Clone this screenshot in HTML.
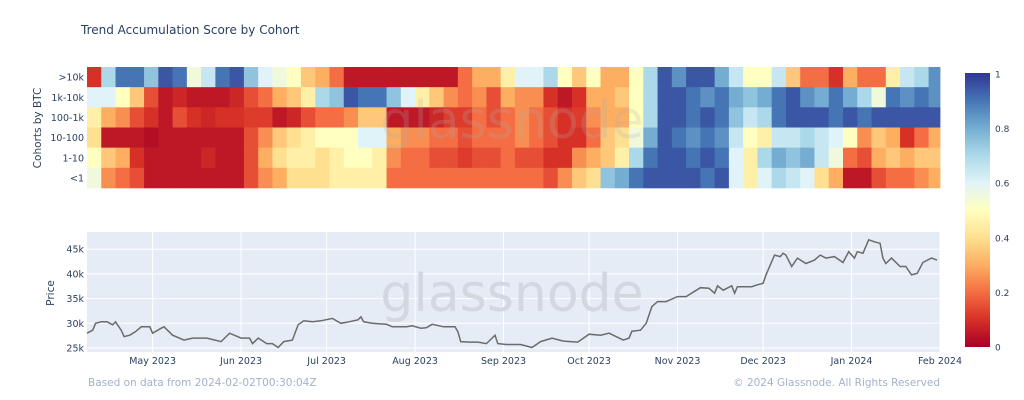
<!DOCTYPE html>
<html><head><meta charset="utf-8"><style>
body{margin:0;background:#fff;}
svg{display:block;font-family:"DejaVu Sans","Liberation Sans",sans-serif;}
</style></head><body>
<svg id="chart" width="1024" height="400" viewBox="0 0 1024 400" xmlns="http://www.w3.org/2000/svg">
<rect width="1024" height="400" fill="#fff"/>
<text x="81" y="34" font-size="12" fill="#2a3f5f">Trend Accumulation Score by Cohort</text>
<g id="heat"></g>
<g id="heatlabels"></g>
<text transform="translate(41,128) rotate(-90)" text-anchor="middle" font-size="10.5" fill="#2a3f5f">Cohorts by BTC</text>
<text x="512" y="138" text-anchor="middle" font-size="52" fill="#b0b0b0" opacity="0.22">glassnode</text>
<rect x="87" y="232" width="853" height="120" fill="#e5ecf6"/>
<g id="grid"></g>
<text x="512" y="311" text-anchor="middle" font-size="52" fill="#d3d7df">glassnode</text>
<path id="priceLine" fill="none" stroke="#6b6b6b" stroke-width="1.5"/>
<g id="ylab"></g>
<g id="xlab"></g>
<text transform="translate(54,293) rotate(-90)" text-anchor="middle" font-size="10.5" fill="#2a3f5f">Price</text>
<defs><linearGradient id="cb" x1="0" y1="1" x2="0" y2="0">
<stop offset="0" stop-color="#a50026"/><stop offset="0.1" stop-color="#d73027"/><stop offset="0.2" stop-color="#f46d43"/><stop offset="0.3" stop-color="#fdae61"/><stop offset="0.4" stop-color="#fee090"/><stop offset="0.5" stop-color="#ffffbf"/><stop offset="0.6" stop-color="#e0f3f8"/><stop offset="0.7" stop-color="#abd9e9"/><stop offset="0.8" stop-color="#74add1"/><stop offset="0.9" stop-color="#4575b4"/><stop offset="1" stop-color="#313695"/>
</linearGradient></defs>
<rect x="965" y="73" width="25" height="274" fill="url(#cb)"/>
<g id="cblab"></g>
<text x="88" y="386" font-size="10.5" fill="#a3b1c9">Based on data from 2024-02-02T00:30:04Z</text>
<text x="940" y="386" text-anchor="end" font-size="10.5" fill="#a3b1c9">© 2024 Glassnode. All Rights Reserved</text>
</svg>
<script>
const cohorts = [">10k","1k-10k","100-1k","10-100","1-10","<1"];
const row0 = [0.1,0.7,0.9,0.9,0.75,0.95,0.9,0.55,0.65,0.9,0.95,0.75,0.6,0.55,0.5,0.35,0.3,0.2,0.05,0.05, 0.05,0.05,0.05,0.05,0.05,0.05,0.2,0.3,0.3,0.45,0.6,0.6,0.7,0.5,0.35,0.5,0.3,0.3,0.5,0.7,0.95, 0.85,0.95,0.95,0.8,0.65,0.5,0.5,0.65,0.35,0.2,0.2,0.1,0.3,0.2,0.2,0.45,0.65,0.7,0.85];
const row1 = [0.6,0.6,0.5,0.35,0.15,0.05,0.08,0.05,0.05,0.05,0.08,0.15,0.2,0.3,0.35,0.45,0.7,0.75,0.95,0.9, 0.9,0.75,0.6,0.45,0.35,0.25,0.2,0.25,0.15,0.3,0.25,0.25,0.1,0.05,0.1,0.3,0.3,0.35,0.5,0.7,0.95, 0.95,0.9,0.85,0.9,0.8,0.75,0.8,0.9,0.95,0.85,0.8,0.9,0.8,0.7,0.55,0.9,0.85,0.9,0.85];
const row2 = [0.45,0.3,0.25,0.15,0.1,0.05,0.15,0.1,0.08,0.1,0.1,0.12,0.12,0.05,0.08,0.15,0.2,0.2,0.25,0.35, 0.35,0.05,0.05,0.05,0.08,0.12,0.12,0.2,0.15,0.2,0.25,0.2,0.15,0.1,0.12,0.25,0.3,0.3,0.5,0.7,0.95, 0.95,0.9,0.95,0.9,0.75,0.65,0.7,0.9,0.95,0.95,0.95,0.9,0.95,0.9,0.95,0.95,0.95,0.95,0.95];
const row3 = [0.4,0.05,0.05,0.05,0.03,0.05,0.05,0.05,0.05,0.05,0.05,0.15,0.25,0.35,0.4,0.45,0.5,0.5,0.5,0.6, 0.6,0.3,0.25,0.25,0.2,0.2,0.15,0.2,0.2,0.2,0.25,0.2,0.15,0.1,0.1,0.2,0.35,0.4,0.55,0.8,0.95, 0.9,0.85,0.9,0.85,0.65,0.5,0.45,0.65,0.65,0.7,0.65,0.6,0.5,0.25,0.35,0.3,0.1,0.2,0.3];
const row4 = [0.5,0.35,0.3,0.1,0.05,0.05,0.05,0.05,0.08,0.05,0.05,0.15,0.3,0.4,0.45,0.45,0.4,0.45,0.5,0.5, 0.45,0.25,0.2,0.2,0.15,0.15,0.12,0.15,0.15,0.2,0.15,0.15,0.1,0.1,0.25,0.3,0.35,0.45,0.7,0.9,0.95, 0.95,0.9,0.95,0.9,0.6,0.45,0.7,0.8,0.75,0.8,0.65,0.55,0.2,0.15,0.3,0.35,0.3,0.35,0.35];
const row5 = [0.55,0.25,0.2,0.15,0.05,0.05,0.05,0.05,0.05,0.05,0.05,0.15,0.25,0.3,0.4,0.4,0.4,0.45,0.45,0.45, 0.45,0.2,0.2,0.2,0.2,0.2,0.2,0.2,0.2,0.2,0.2,0.2,0.15,0.25,0.35,0.4,0.75,0.8,0.9,0.95,0.95, 0.95,0.95,0.9,0.95,0.6,0.45,0.6,0.7,0.65,0.6,0.4,0.3,0.05,0.05,0.15,0.2,0.2,0.25,0.3];
const rows = [row0,row1,row2,row3,row4,row5];
const cellDays = 5;
const priceDays = [0,2,3,5,7,9,10,12,13,15,17,19,22,23,26,27,30,34,37,42,47,50,54,57,58,60,63,65,67,69,72,74,76,79,82,86,89,91,95,96,97,100,105,107,112,114,117,119,121,125,129,130,131,134,137,140,143,144,147,152,156,159,163,167,172,176,180,183,188,190,191,194,196,198,200,203,207,210,215,218,220,221,223,226,227,228,233,235,237,238,241,243,244,245,247,249,252,255,257,259,262,265,267,269,270,272,274,276,278,279,280,282,285,287,289,291,293,296,298];
const priceVals = [28.0,28.6,30.0,30.3,30.3,29.7,30.3,28.6,27.3,27.6,28.3,29.3,29.3,28.0,29.0,29.3,27.6,26.6,27.0,27.0,26.3,28.0,27.0,27.0,25.9,27.0,25.9,25.9,25.1,26.3,26.6,29.7,30.5,30.3,30.5,31.0,30.0,30.2,30.7,31.3,30.3,30.0,29.8,29.3,29.3,29.5,29.0,29.1,29.8,29.3,29.3,28.3,26.3,26.2,26.2,25.9,27.6,25.9,25.7,25.7,25.1,26.3,27.0,26.4,26.2,27.8,27.6,28.0,26.6,27.0,28.4,28.6,30.0,33.4,34.4,34.4,35.4,35.4,37.2,37.1,36.1,37.6,36.7,37.6,36.1,37.4,37.4,37.8,38.1,39.8,43.8,43.5,44.2,43.8,41.5,43.2,42.1,42.8,43.8,43.2,43.5,42.3,44.5,43.2,44.5,44.2,46.9,46.5,46.2,43.2,42.1,43.2,41.5,41.5,39.8,40.1,42.3,43.2,42.8];
const yTicks = [25,30,35,40,45];
const monthLabels = ["May 2023","Jun 2023","Jul 2023","Aug 2023","Sep 2023","Oct 2023","Nov 2023","Dec 2023","Jan 2024","Feb 2024"];
const monthDays = [23,54,84,115,146,176,207,237,268,299];
const cbTicks = [0,0.2,0.4,0.6,0.8,1];
const cbLabels = ["0","0.2","0.4","0.6","0.8","1"];

const NS="http://www.w3.org/2000/svg";
const X0=87, X1=940, TOTAL=299;
const xs = d => X0 + d*(X1-X0)/TOTAL;
const HT=67, HB=188, rowH=(HB-HT)/6;
const py = v => 348 - (v-25)*24.7/5;
const stops=[[165,0,38],[215,48,39],[244,109,67],[253,174,97],[254,224,144],[255,255,191],[224,243,248],[171,217,233],[116,173,209],[69,117,180],[49,54,149]];
function col(v){v=Math.max(0,Math.min(1,v));const t=v*10,i=Math.min(9,Math.floor(t)),f=t-i;const a=stops[i],b=stops[i+1];return `rgb(${a.map((c,k)=>Math.round(c+(b[k]-c)*f)).join(',')})`;}
function mk(tag,attrs,parent){const e=document.createElementNS(NS,tag);for(const k in attrs)e.setAttribute(k,attrs[k]);parent.appendChild(e);return e;}
const heat=document.getElementById('heat');
rows.forEach((r,ri)=>{r.forEach((v,ci)=>{
  const x=xs(ci*cellDays), w=xs(Math.min(TOTAL,(ci+1)*cellDays))-x;
  const e=mk('rect',{x:x.toFixed(2),y:(HT+ri*rowH).toFixed(2),width:(w+0.4).toFixed(2),height:(rowH+0.3).toFixed(2),fill:col(v)},heat);
  
  
});});
const hl=document.getElementById('heatlabels');
cohorts.forEach((c,i)=>{const t=mk('text',{x:84,y:(HT+(i+0.5)*rowH+3.5).toFixed(1),'text-anchor':'end','font-size':9.5,fill:'#2a3f5f'},hl);t.textContent=c;
  
  });
const grid=document.getElementById('grid'), yl=document.getElementById('ylab'), xl=document.getElementById('xlab');
yTicks.forEach(v=>{const l=mk('line',{x1:X0,x2:X1,y1:py(v),y2:py(v),stroke:'#fff','stroke-width':1},grid);
  
  
  const t=mk('text',{x:84,y:py(v)+3.5,'text-anchor':'end','font-size':9.5,fill:'#2a3f5f'},yl);t.textContent=v+'k';
  
  });
monthDays.forEach((d,i)=>{const l=mk('line',{x1:xs(d),x2:xs(d),y1:232,y2:352,stroke:'#fff','stroke-width':1},grid);
  
  
  const t=mk('text',{x:xs(d),y:364,'text-anchor':'middle','font-size':9.5,fill:'#2a3f5f'},xl);t.textContent=monthLabels[i];
  
  });
document.getElementById('priceLine').setAttribute('d',priceDays.map((d,i)=>(i?'L':'M')+xs(d).toFixed(1)+','+py(priceVals[i]).toFixed(1)).join(''));
const cbl=document.getElementById('cblab');
cbTicks.forEach((v,i)=>{const t=mk('text',{x:995,y:(347-v*273+3.5).toFixed(1),'font-size':9,fill:'#2a3f5f'},cbl);t.textContent=cbLabels[i];
  
  });
</script>
</body></html>
